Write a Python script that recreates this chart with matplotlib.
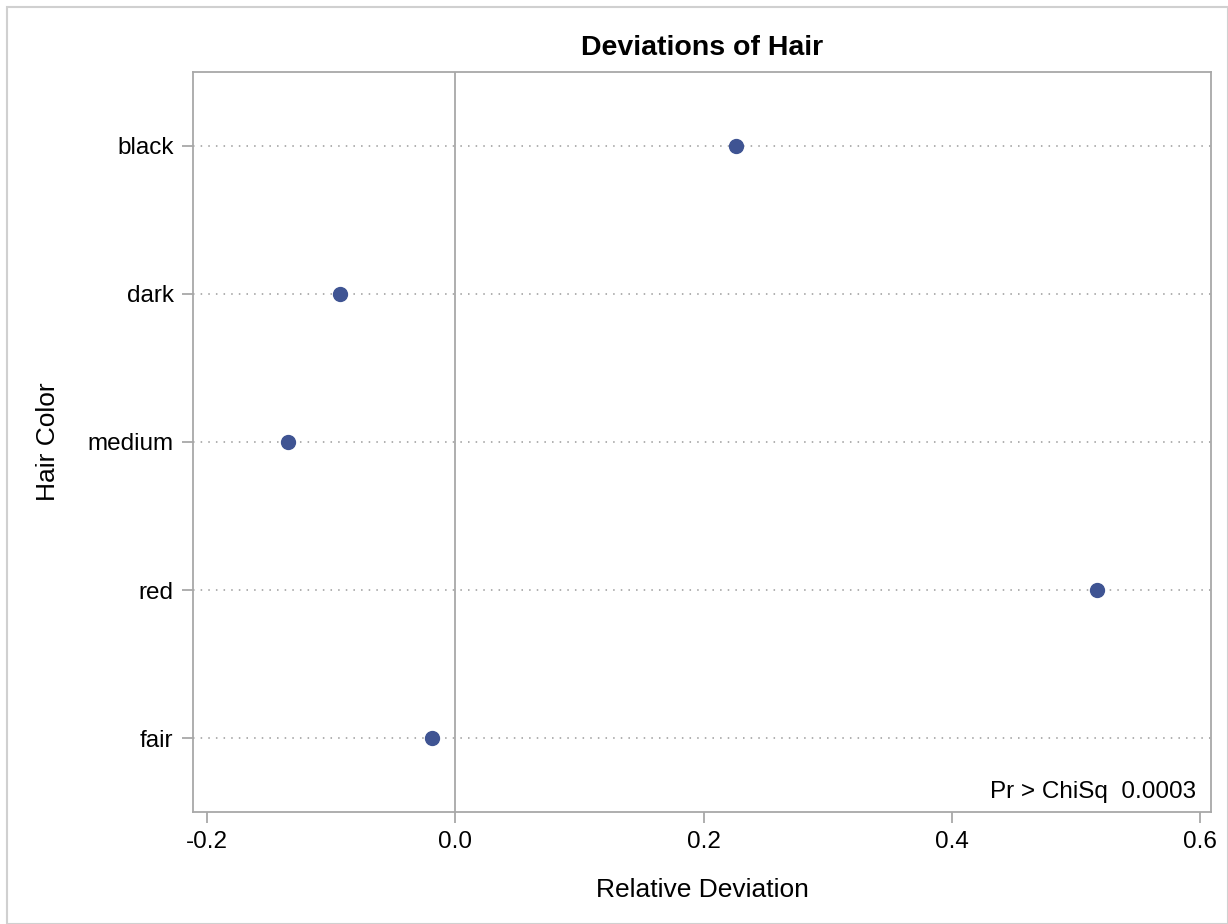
import matplotlib.pyplot as plt
from matplotlib.patches import Rectangle

plt.rcParams['font.family'] = ['Liberation Sans', 'DejaVu Sans']

# data
hair_colors = ['fair', 'red', 'medium', 'dark', 'black']
rel_dev = [-0.0185, 0.517, -0.1345, -0.0926, 0.2263]
x_ticks = [-0.2, 0.0, 0.2, 0.4, 0.6]
p_value = '0.0003'

gray = '#A8A8A8'

fig = plt.figure(figsize=(12.28, 9.24), dpi=100)
ax = fig.add_axes([0.1572, 0.1212, 0.829, 0.8009])

ypos = list(range(len(hair_colors)))
for y in ypos:
    ax.axhline(y, color='#9A9A9A', lw=1.1, ls=(0, (1, 4)), zorder=1)
ax.axvline(0, color=gray, lw=1.3, zorder=1)
ax.plot(rel_dev, ypos, 'o', color='#3F5493', markersize=10, zorder=3)

ax.set_xlim(-0.2113, 0.6089)
ax.set_ylim(-0.5, 4.5)
ax.set_xticks(x_ticks)
ax.set_xticklabels([f'{v:.1f}' for v in x_ticks])
ax.set_yticks(ypos)
ax.set_yticklabels(hair_colors)
ax.tick_params(axis='both', length=8, width=1.3, color=gray, labelsize=17.5, pad=6)
for s in ax.spines.values():
    s.set_color(gray)
    s.set_linewidth(1.3)

ax.set_title('Deviations of Hair', fontsize=20.5, fontweight='bold', pad=12)
ax.set_xlabel('Relative Deviation', fontsize=19, labelpad=18)
ax.set_ylabel('Hair Color', fontsize=19, labelpad=20)
ax.text(0.985, 0.012, f'Pr > ChiSq  {p_value}', transform=ax.transAxes,
        ha='right', va='bottom', fontsize=17.5)

fig.patches.append(Rectangle((7 / 1228, 0), 1 - 7 / 1228, 1 - 7 / 924,
                             transform=fig.transFigure, fill=False,
                             edgecolor='#D0D0D0', lw=1.5))

fig.savefig('out.png', dpi=100)
